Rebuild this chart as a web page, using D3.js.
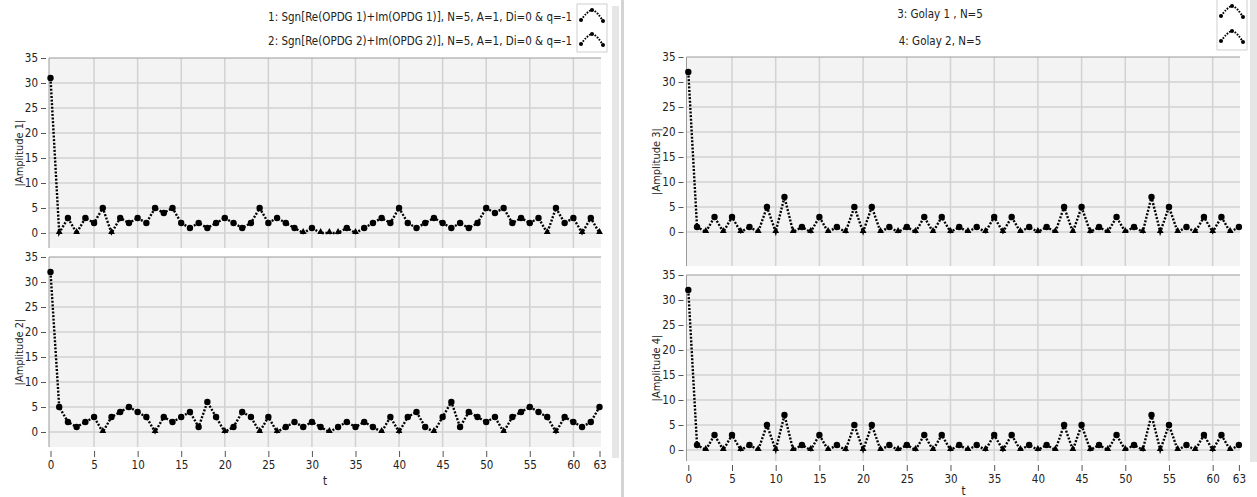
<!DOCTYPE html>
<html><head><meta charset="utf-8">
<script src="https://cdn.jsdelivr.net/npm/d3@7"></script>
<style>
body{margin:0;background:#fff}
svg{display:block}
text{font-family:"DejaVu Sans Condensed","DejaVu Sans",sans-serif;fill:#222}
</style>
</head><body>
<svg id="c" width="1257" height="497"></svg>
<script>
// ---------- data ----------
const t = d3.range(64);
const amp1 = [31,0,3,0,3,2,5,0,3,2, 3,2,5,4,5,2,1,2,1,2, 3,2,1,2,5,2,3,2,1,0, 1,0,0,0,1,0,1,2,3,2, 5,2,1,2,3,2,1,2,1,2, 5,4,5,2,3,2,3,0,5,2, 3,0,3,0];
const amp2 = [32,5,2,1,2,3,0,3,4,5, 4,3,0,3,2,3,4,1,6,3, 0,1,4,3,0,3,0,1,2,1, 2,1,0,1,2,1,2,1,0,3, 0,3,4,1,0,3,6,1,4,3, 2,3,0,3,4,5,4,3,0,3, 2,1,2,5];
const amp3 = [32,1,0,3,0,3,0,1,0,5, 0,7,0,1,0,3,0,1,0,5, 0,5,0,1,0,1,0,3,0,3, 0,1,0,1,0,3,0,3,0,1, 0,1,0,5,0,5,0,1,0,3, 0,1,0,7,0,5,0,1,0,3, 0,3,0,1];
const amp4 = [32,1,0,3,0,3,0,1,0,5, 0,7,0,1,0,3,0,1,0,5, 0,5,0,1,0,1,0,3,0,3, 0,1,0,1,0,3,0,3,0,1, 0,1,0,5,0,5,0,1,0,3, 0,1,0,7,0,5,0,1,0,3, 0,3,0,1];
const xTicks = [0,5,10,15,20,25,30,35,40,45,50,55,60,63];
const yTicks = [0,5,10,15,20,25,30,35];
const legendLeft = ["1: Sgn[Re(OPDG 1)+Im(OPDG 1)], N=5, A=1, Di=0 & q=-1",
                    "2: Sgn[Re(OPDG 2)+Im(OPDG 2)], N=5, A=1, Di=0 & q=-1"];
const legendRight = ["3: Golay 1 , N=5", "4: Golay 2, N=5"];
const yTitles = ["|Amplitude 1|", "|Amplitude 2|", "|Amplitude 3|", "|Amplitude 4|"];
const xTitle = "t";

// ---------- layout ----------
const svg = d3.select("#c");
const panels = [
  {data: amp1, title: yTitles[0], x0: 49, x1: 601, xr: [50.5, 599.5], top: 58, bottom: 248, yMin: -3, xAxis: false},
  {data: amp2, title: yTitles[1], x0: 49, x1: 601, xr: [50.5, 599.5], top: 257, bottom: 447, yMin: -3, xAxis: true, titleY: 481},
  {data: amp3, title: yTitles[2], x0: 686.5, x1: 1240, xr: [688.3, 1238.9], top: 57, bottom: 266, yMin: -6.8, xAxis: false},
  {data: amp4, title: yTitles[3], x0: 686.5, x1: 1240, xr: [688.3, 1238.9], top: 275, bottom: 461, yMin: -2.2, xAxis: true, titleY: 491}
];

// separators
svg.append("rect").attr("x", 612).attr("y", 6).attr("width", 7).attr("height", 452).attr("fill", "#e6e6e6");
svg.append("rect").attr("x", 621).attr("y", 0).attr("width", 3).attr("height", 497).attr("fill", "#d4d4d4");
svg.append("rect").attr("x", 1250).attr("y", 0).attr("width", 7).attr("height", 462).attr("fill", "#e6e6e6");

const tri = d3.symbol().type(d3.symbolTriangle).size(20);

panels.forEach(p => {
  const x = d3.scaleLinear().domain([0, 63]).range(p.xr);
  const y = d3.scaleLinear().domain([p.yMin, 35]).range([p.bottom, p.top]);
  const g = svg.append("g");
  g.append("rect").attr("x", p.x0).attr("y", p.top).attr("width", p.x1 - p.x0).attr("height", p.bottom - p.top)
    .attr("fill", "#f3f3f3");
  // grid
  g.selectAll(".vg").data(xTicks.filter(d => d > 0 && d < 63)).join("line")
    .attr("x1", d => x(d)).attr("x2", d => x(d)).attr("y1", p.top).attr("y2", p.bottom)
    .attr("stroke", "#d2d2d2").attr("stroke-width", 1.5);
  g.selectAll(".hg").data(yTicks.filter(d => d < 35)).join("line")
    .attr("x1", p.x0).attr("x2", p.x1).attr("y1", d => y(d)).attr("y2", d => y(d))
    .attr("stroke", "#d2d2d2").attr("stroke-width", 1.5);
  // frame
  g.append("line").attr("x1", p.x0).attr("x2", p.x1).attr("y1", p.top).attr("y2", p.top).attr("stroke", "#9a9a9a");
  g.append("line").attr("x1", p.x0).attr("x2", p.x0).attr("y1", p.top).attr("y2", p.bottom).attr("stroke", "#9a9a9a");
  // y axis
  const ya = g.append("g").attr("transform", `translate(${p.x0 - 3},0)`)
    .call(d3.axisLeft(y).tickValues(yTicks).tickSize(5).tickPadding(3));
  ya.select(".domain").remove();
  ya.selectAll("line").attr("stroke", "#555");
  ya.selectAll("text").attr("font-size", 11.5).attr("fill", "#222")
    .style("font-family", '"DejaVu Sans Condensed","DejaVu Sans",sans-serif');
  // y title
  g.append("text").attr("transform", `translate(${p.x0 - 30},${(p.top + p.bottom) / 2}) rotate(-90)`)
    .attr("text-anchor", "middle").attr("dy", "0.35em").attr("font-size", 11).text(p.title);
  // x axis
  if (p.xAxis) {
    const xa = g.append("g").attr("transform", `translate(0,${p.bottom + 4})`)
      .call(d3.axisBottom(x).tickValues(xTicks).tickSize(6).tickPadding(4));
    xa.select(".domain").remove();
    xa.selectAll("line").attr("stroke", "#555");
    xa.selectAll("text").attr("font-size", 11.5).attr("fill", "#222")
      .style("font-family", '"DejaVu Sans Condensed","DejaVu Sans",sans-serif');
    g.append("text").attr("x", (p.xr[0] + p.xr[1]) / 2).attr("y", p.titleY).attr("text-anchor", "middle")
      .attr("dy", "0.32em").attr("font-size", 11.5).text(xTitle);
  }
  // series
  const line = d3.line().x((d, i) => x(t[i])).y(d => y(d));
  g.append("path").datum(p.data).attr("d", line).attr("fill", "none").attr("stroke", "#000")
    .attr("stroke-width", 2.4).attr("stroke-dasharray", "2,1.6");
  g.selectAll(".pt").data(p.data.map((v, i) => ({v, i})).filter(d => d.v !== 0)).join("circle")
    .attr("cx", d => x(t[d.i])).attr("cy", d => y(d.v)).attr("r", 3.2).attr("fill", "#000");
  g.selectAll(".zp").data(p.data.map((v, i) => ({v, i})).filter(d => d.v === 0)).join("path")
    .attr("d", tri).attr("transform", d => `translate(${x(t[d.i])},${y(d.v) - 1})`).attr("fill", "#000");
});

// legends
function swatch(x0, y0) {
  const pts = [[0, 10], [5, 4], [11, 0], [17, 4], [22, 11]];
  svg.append("path").attr("d", d3.line().curve(d3.curveCardinal)(pts.map(q => [x0 + q[0], y0 + q[1]])))
    .attr("fill", "none").attr("stroke", "#000").attr("stroke-width", 2).attr("stroke-dasharray", "1.6,1.4");
  [pts[0], pts[2], pts[4]].forEach(q => svg.append("circle").attr("cx", x0 + q[0]).attr("cy", y0 + q[1]).attr("r", 2).attr("fill", "#000"));
}
legendLeft.forEach((s, i) => {
  svg.append("text").attr("x", 572).attr("y", 17 + i * 24).attr("dy", "0.35em").attr("text-anchor", "end")
    .attr("font-size", 11.5).text(s);
});
svg.append("rect").attr("x", 577).attr("y", 4).attr("width", 30).attr("height", 48).attr("fill", "#fff").attr("stroke", "#cfcfcf");
swatch(581, 10); swatch(581, 34);

legendRight.forEach((s, i) => {
  svg.append("text").attr("x", 940).attr("y", 14 + i * 27).attr("dy", "0.35em").attr("text-anchor", "middle")
    .attr("font-size", 11.5).text(s);
});
svg.append("rect").attr("x", 1217).attr("y", -1).attr("width", 30).attr("height", 51).attr("fill", "#fff").attr("stroke", "#cfcfcf");
swatch(1221, 6); swatch(1221, 31);
</script>
</body></html>
